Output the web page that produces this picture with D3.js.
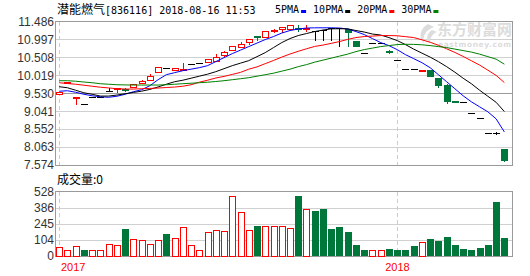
<!DOCTYPE html>
<html lang="zh">
<head>
<meta charset="UTF-8">
<title>潜能燃气 K线</title>
<script src="https://d3js.org/d3.v7.min.js"></script>
<style>
    body { margin: 0; background: #fff; }
    svg { display: block; }
    .axis text { font-family: "Liberation Sans", Arial, sans-serif; font-size: 12px; fill: #333; }
    .axis path, .axis line { display: none; }
</style>
</head>
<body>
<div id="chart"></div>
<script>
// values
var open  = [9.52,9.83,9.43,9.24,9.42,9.42,9.58,9.65,9.64,9.70, 9.80,9.90,10.11,10.22,10.17,10.18,10.33,10.345,10.39,10.40,
             10.56,10.70,10.79,10.92,11.10,11.06,11.25,11.29,11.27,11.30, 11.30,11.23,11.25,11.31,11.31,11.29,10.95,10.63,10.91,10.91,
             10.68,10.45,10.19,10.19,10.15,10.17,9.95,9.75,9.31,9.30, 8.99,8.85,8.44,8.44,8.01];
var close = [9.57,9.84,9.44,9.24,9.42,9.42,9.58,9.66,9.63,9.78, 9.87,10.01,10.24,10.22,10.22,10.19,10.33,10.345,10.47,10.52,
             10.65,10.83,10.86,11.01,11.06,11.23,11.26,11.34,11.38,11.29, 11.31,11.23,11.25,11.31,11.31,11.19,10.81,10.63,10.91,10.91,
             10.67,10.45,10.19,10.19,10.16,9.99,9.76,9.31,9.30,9.30, 8.99,8.85,8.44,8.44,7.71];
var high  = [9.57,9.84,9.44,9.24,9.42,9.42,9.68,9.66,9.66,9.78, 9.88,10.06,10.24,10.22,10.22,10.36,10.33,10.345,10.47,10.61,
             10.67,10.83,10.93,11.01,11.10,11.23,11.29,11.34,11.38,11.38, 11.40,11.23,11.25,11.31,11.31,11.29,10.95,10.63,10.91,10.91,
             10.70,10.45,10.19,10.19,10.16,10.17,9.95,9.77,9.31,9.30, 8.99,8.85,8.44,8.47,8.01];
var low   = [9.52,9.83,9.24,9.24,9.42,9.42,9.58,9.57,9.60,9.70, 9.80,9.90,10.11,10.22,10.17,10.18,10.33,10.345,10.39,10.40,
             10.54,10.70,10.79,10.86,10.99,11.06,11.20,11.19,11.27,11.23, 11.22,10.99,10.99,10.99,10.83,10.81,10.81,10.63,10.91,10.91,
             10.64,10.45,10.19,10.19,10.15,9.99,9.69,9.27,9.30,9.30, 8.99,8.85,8.44,8.41,7.67];

var ma5  = [9.585,9.598,9.557,9.502,9.461,9.434,9.420,9.448,9.502,9.571, 9.626,9.735,9.899,10.036,10.091,10.145,10.186,10.227,10.282,10.392,
            10.501,10.610,10.706,10.802,10.898,10.994,11.076,11.171,11.240,11.281, 11.308,11.314,11.314,11.314,11.308,11.281,11.212,11.130,11.021,10.911,
            10.829,10.720,10.583,10.474,10.364,10.227,10.036,9.844,9.653,9.461, 9.297,9.160,9.024,8.832,8.476];
var ma10 = [9.708,9.680,9.612,9.543,9.502,9.453,9.453,9.481,9.516,9.552, 9.587,9.634,9.702,9.776,9.844,9.885,9.940,9.995,10.050,10.118,
            10.200,10.282,10.351,10.419,10.528,10.638,10.775,10.911,11.021,11.103, 11.158,11.212,11.253,11.286,11.289,11.286,11.240,11.199,11.144,11.117,
            11.048,10.966,10.857,10.734,10.624,10.515,10.392,10.255,10.104,9.940, 9.790,9.612,9.448,9.284,9.032];
var ma20 = [9.817,9.795,9.776,9.749,9.721,9.694,9.675,9.653,9.645,9.645, 9.653,9.661,9.672,9.686,9.699,9.721,9.762,9.831,9.885,9.946,
            9.989,10.044,10.099,10.186,10.249,10.337,10.424,10.515,10.599,10.673, 10.742,10.807,10.843,10.890,10.939,10.999,11.048,11.076,11.089,11.103,
            11.103,11.097,11.073,11.048,10.988,10.920,10.838,10.742,10.643,10.534, 10.416,10.298,10.159,10.017,9.822];
var ma30 = [9.872,9.872,9.858,9.836,9.817,9.790,9.776,9.762,9.757,9.754, 9.754,9.754,9.754,9.762,9.776,9.790,9.803,9.817,9.831,9.850,
            9.872,9.899,9.926,9.954,9.995,10.036,10.077,10.132,10.186,10.255, 10.310,10.378,10.433,10.487,10.542,10.597,10.665,10.720,10.761,10.802,
            10.829,10.857,10.865,10.862,10.851,10.829,10.802,10.775,10.734,10.693, 10.652,10.597,10.528,10.460,10.323];

var volume = [57,37,63,39,37,37,76,70,201,110, 102,78,102,157,119,216,70,37,172,189,
              181,490,348,189,227,224,224,224,210,492, 375,360,377,201,219,175,72,39,37,37,
              45,39,39,65,91,113,97,130,72,45, 39,52,72,439,122];
var volUp  = [1,1,1,0,1,1,1,1,0,1, 1,1,1,0,1,1,1,1,1,1, 1,1,1,1,0,1,1,1,1,0,
              1,0,0,0,0,0,0,0,1,1, 0,0,0,0,1,0,0,0,0,0, 0,0,0,0,0];

var priceTicks = [11.486, 10.997, 10.508, 10.019, 9.530, 9.041, 8.552, 8.063, 7.574];
var volTicks = [0, 104, 245, 386, 528];
var yearIdx = [0, 41];
var yearLabels = ["2017", "2018"];
var maNames = ["5PMA", "10PMA", "20PMA", "30PMA"];
var titleName = "潜能燃气";
var titleRest = "[836116] 2018-08-16 11:53";

var W = 530, H = 276;
var left = 55, right = 512.5;
var pTop = 21.5, pBot = 165, vTop = 191.5, vBot = 256;

var RED = "#f00", GREEN = "#00773a", maColors = ["#0000ff", "#000", "#f00", "#008000"];

var svg = d3.select("#chart").append("svg").attr("width", W).attr("height", H);

var idx = d3.range(open.length);
var x = d3.scaleBand().domain(idx).range([54, 509.5]).padding(0.25);
var cx = function (i) { return Math.round(x(i) + x.bandwidth() / 2) + 0.5; };
var y = d3.scaleLinear().domain([7.574, 11.486]).range([pBot, pTop]);
var yv = d3.scaleLinear().domain(volTicks).range([vBot, 240, 224, 208, vTop]);

// title + legend
var title = svg.append("text").attr("x", 57).attr("y", 14);
title.append("tspan").style("font-family", "'Noto Sans CJK SC'").style("font-size", "12px").text(titleName);
title.append("tspan").style("font-family", "'DejaVu Sans Mono'").style("font-size", "10px").text(titleRest);

var lx = 275;
maNames.forEach(function (n, k) {
    var t = svg.append("text").attr("x", lx).attr("y", 13)
        .style("font-family", "'DejaVu Sans Mono'").style("font-size", "10px").text(n);
    var w = t.node().getComputedTextLength();
    svg.append("rect").attr("x", lx + w + 2).attr("y", 10).attr("width", 5).attr("height", 3)
        .attr("fill", maColors[k]);
    lx += w + 14;
});

// grids
var gridP = svg.append("g").attr("shape-rendering", "crispEdges");
gridP.selectAll("line").data(priceTicks.slice(1, -1)).join("line")
    .attr("x1", left).attr("x2", right)
    .attr("y1", function (d) { return Math.round(y(d)) + 0.5; })
    .attr("y2", function (d) { return Math.round(y(d)) + 0.5; })
    .attr("stroke", function (d) { return d === 9.530 ? "#999" : "#d0d0d0"; });

var gridV = svg.append("g").attr("shape-rendering", "crispEdges");
gridV.selectAll("line").data(volTicks.slice(1, -1)).join("line")
    .attr("x1", left).attr("x2", right)
    .attr("y1", function (d) { return Math.round(yv(d)) + 0.5; })
    .attr("y2", function (d) { return Math.round(yv(d)) + 0.5; })
    .attr("stroke", "#d0d0d0");

// watermark
svg.append("text").attr("x", 437).attr("y", 35)
    .style("font-family", "'Noto Sans CJK SC'").style("font-size", "15px").style("font-weight", "bold")
    .attr("fill", "#dcdcdc").text("东方财富网");
svg.append("text").attr("x", 438).attr("y", 46.5).attr("textLength", 73)
    .style("font-family", "'DejaVu Sans'").style("font-size", "7.5px").style("font-weight", "bold")
    .attr("fill", "#dcdcdc").text("eastmoney.com");
svg.append("path").attr("d", "M428,24 C420,28 418,38 424,43 C422,36 426,30 434,27 Z M432,30 C426,34 426,40 430,43 C430,38 432,34 437,32 Z")
    .attr("fill", "#dcdcdc");

// year separators
yearIdx.forEach(function (i, k) {
    [[pTop, pBot], [vTop, vBot]].forEach(function (r) {
        svg.append("line").attr("x1", cx(i)).attr("x2", cx(i)).attr("y1", r[0]).attr("y2", r[1])
            .attr("stroke", "#ccc").attr("stroke-dasharray", "4,3").attr("shape-rendering", "crispEdges");
    });
    svg.append("text").attr("x", k === 0 ? cx(i) + 1.5 : cx(i)).attr("y", 271)
        .attr("text-anchor", k === 0 ? "start" : "middle")
        .style("font-family", "'Liberation Sans'").style("font-size", "11px").attr("fill", RED).text(yearLabels[k]);
});

// frames
svg.append("rect").attr("x", left + 0.5).attr("y", pTop).attr("width", right - left - 0.5).attr("height", pBot - pTop)
    .attr("fill", "none").attr("stroke", "#999").attr("shape-rendering", "crispEdges");
svg.append("rect").attr("x", left + 0.5).attr("y", vTop).attr("width", right - left - 0.5).attr("height", vBot - vTop)
    .attr("fill", "none").attr("stroke", "#999").attr("shape-rendering", "crispEdges");

// axes labels
svg.append("g").attr("class", "axis").attr("transform", "translate(" + (left - 1) + ",0)")
    .call(d3.axisLeft(y).tickValues(priceTicks).tickSize(0).tickPadding(0).tickFormat(d3.format(".3f")));
svg.append("g").attr("class", "axis").attr("transform", "translate(" + (left - 1) + ",0)")
    .call(d3.axisLeft(yv).tickValues(volTicks).tickSize(0).tickPadding(0));

svg.append("text").attr("x", 57).attr("y", 184)
    .style("font-family", "'Noto Sans CJK SC'").style("font-size", "12px").text("成交量:0");

// candles
var half = 3;
var candles = svg.append("g").attr("shape-rendering", "crispEdges");
idx.forEach(function (i) {
    var o = open[i], c = close[i];
    var col = c > o ? RED : (c < o ? GREEN : "#000");
    var g = candles.append("g");
    var yh = Math.round(y(high[i])), yl = Math.round(y(low[i]));
    if (yl > yh) {
        g.append("line").attr("x1", cx(i)).attr("x2", cx(i)).attr("y1", yh).attr("y2", yl + 1).attr("stroke", col);
    }
    if (c === o) {
        var yy = Math.round(y(o)) + 0.5;
        g.append("line").attr("x1", cx(i) - half - 0.5).attr("x2", cx(i) + half + 0.5).attr("y1", yy).attr("y2", yy).attr("stroke", col);
    } else {
        var top = Math.round(y(Math.max(o, c))), bot = Math.round(y(Math.min(o, c)));
        var h = Math.max(bot - top, 1);
        if (c > o) {
            g.append("rect").attr("x", cx(i) - half).attr("y", top + 0.5).attr("width", half * 2).attr("height", h)
                .attr("fill", "#fff").attr("stroke", RED);
        } else {
            g.append("rect").attr("x", cx(i) - half - 0.5).attr("y", top).attr("width", half * 2 + 1).attr("height", h + 1)
                .attr("fill", GREEN);
        }
    }
});

// moving averages
var mas = [ma5, ma10, ma20, ma30];
var line = d3.line().x(function (d, i) { return x(i) + x.bandwidth() / 2; }).y(function (d) { return y(d); });
mas.forEach(function (m, k) {
    svg.append("path").attr("d", line(m)).attr("fill", "none").attr("stroke", maColors[k]).attr("stroke-width", 1);
});

// volume bars
var vols = svg.append("g").attr("shape-rendering", "crispEdges");
idx.forEach(function (i) {
    var t = Math.round(yv(volume[i]));
    if (volUp[i]) {
        vols.append("rect").attr("x", cx(i) - half).attr("y", t + 0.5).attr("width", half * 2).attr("height", vBot - t - 0.5)
            .attr("fill", "#fff").attr("stroke", RED);
    } else {
        vols.append("rect").attr("x", cx(i) - half - 0.5).attr("y", t).attr("width", half * 2 + 1).attr("height", vBot - t)
            .attr("fill", GREEN);
    }
});
</script>
</body>
</html>
